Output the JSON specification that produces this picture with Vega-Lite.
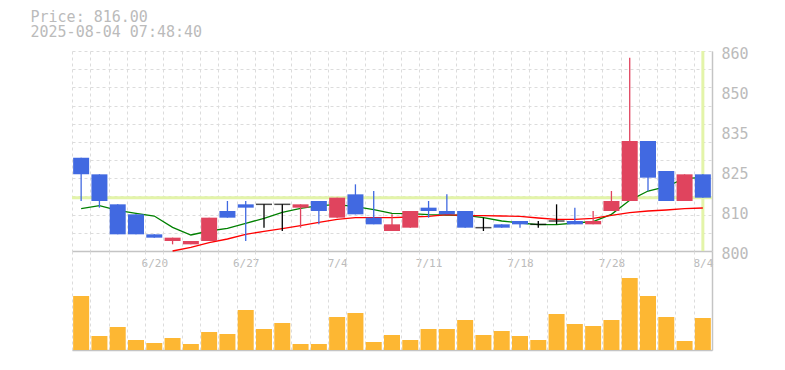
{
  "$schema": "https://vega.github.io/schema/vega-lite/v6.json",
  "background": "white",
  "padding": {"left": 30, "top": 10, "right": 5, "bottom": 5},
  "title": {
    "text": ["Price: 816.00", "2025-08-04 07:48:40"],
    "anchor": "start",
    "dx": -40,
    "font": "DejaVu Sans Mono",
    "fontSize": 15,
    "fontWeight": "normal",
    "color": "#bbbbbb",
    "lineHeight": 15,
    "offset": 6
  },
  "datasets": {
    "k": [
      {"d": "6/16", "o": 828, "h": 828, "l": 815, "c": 823, "g": 812.7, "r": null, "v": 54000},
      {"d": "6/17", "o": 823, "h": 823, "l": 813, "c": 815, "g": 813.6, "r": null, "v": 14000},
      {"d": "6/18", "o": 814, "h": 814, "l": 805, "c": 805, "g": 812.2, "r": null, "v": 23000},
      {"d": "6/19", "o": 811, "h": 811, "l": 805, "c": 805, "g": 811.3, "r": null, "v": 10000},
      {"d": "6/20", "o": 805, "h": 805, "l": 804, "c": 804, "g": 810.5, "r": null, "v": 7000},
      {"d": "6/23", "o": 803, "h": 804, "l": 802, "c": 804, "g": 807.1, "r": 800.0, "v": 12000},
      {"d": "6/24", "o": 802, "h": 803, "l": 802, "c": 803, "g": 804.8, "r": 801.1, "v": 6000},
      {"d": "6/25", "o": 803, "h": 810, "l": 803, "c": 810, "g": 806.0, "r": 802.5, "v": 18000},
      {"d": "6/26", "o": 812, "h": 815, "l": 810, "c": 810, "g": 806.8, "r": 803.6, "v": 16000},
      {"d": "6/27", "o": 814, "h": 815, "l": 803, "c": 813, "g": 808.3, "r": 805.0, "v": 40000},
      {"d": "6/30", "o": 814, "h": 814, "l": 807, "c": 814, "g": 809.8, "r": 805.9, "v": 21000},
      {"d": "7/1", "o": 814, "h": 814, "l": 806, "c": 814, "g": 811.6, "r": 806.7, "v": 27000},
      {"d": "7/2", "o": 813, "h": 814, "l": 807, "c": 814, "g": 812.8, "r": 807.6, "v": 6000},
      {"d": "7/3", "o": 815, "h": 815, "l": 808, "c": 812, "g": 813.6, "r": 808.6, "v": 6000},
      {"d": "7/4", "o": 810, "h": 816, "l": 810, "c": 816, "g": 813.9, "r": 809.5, "v": 33000},
      {"d": "7/7", "o": 817, "h": 820, "l": 811, "c": 811, "g": 813.3, "r": 810.0, "v": 37000},
      {"d": "7/8", "o": 810, "h": 818, "l": 808, "c": 808, "g": 812.4, "r": 810.0, "v": 8000},
      {"d": "7/9", "o": 806, "h": 811, "l": 806, "c": 808, "g": 811.3, "r": 810.0, "v": 15000},
      {"d": "7/10", "o": 807, "h": 812, "l": 807, "c": 812, "g": 811.2, "r": 810.2, "v": 10000},
      {"d": "7/11", "o": 813, "h": 815, "l": 810, "c": 812, "g": 810.9, "r": 810.4, "v": 21000},
      {"d": "7/14", "o": 812, "h": 817, "l": 811, "c": 811, "g": 810.8, "r": 810.9, "v": 21000},
      {"d": "7/15", "o": 812, "h": 812, "l": 807, "c": 807, "g": 810.7, "r": 810.6, "v": 30000},
      {"d": "7/16", "o": 807, "h": 810, "l": 806, "c": 807, "g": 810.0, "r": 810.6, "v": 15000},
      {"d": "7/17", "o": 808, "h": 808, "l": 807, "c": 807, "g": 809.0, "r": 810.5, "v": 19000},
      {"d": "7/18", "o": 809, "h": 809, "l": 807, "c": 808, "g": 808.4, "r": 810.4, "v": 14000},
      {"d": "7/22", "o": 808, "h": 809, "l": 807, "c": 808, "g": 807.9, "r": 809.9, "v": 10000},
      {"d": "7/23", "o": 809, "h": 814, "l": 808, "c": 809, "g": 807.9, "r": 809.5, "v": 36000},
      {"d": "7/24", "o": 809, "h": 813, "l": 808, "c": 808, "g": 808.4, "r": 809.5, "v": 26000},
      {"d": "7/25", "o": 808, "h": 812, "l": 808, "c": 809, "g": 808.8, "r": 809.8, "v": 24000},
      {"d": "7/28", "o": 812, "h": 818, "l": 812, "c": 815, "g": 811.0, "r": 810.7, "v": 30000},
      {"d": "7/29", "o": 815, "h": 858, "l": 815, "c": 833, "g": 815.2, "r": 811.5, "v": 72000},
      {"d": "7/30", "o": 833, "h": 833, "l": 818, "c": 822, "g": 818.0, "r": 812.0, "v": 54000},
      {"d": "7/31", "o": 824, "h": 824, "l": 815, "c": 815, "g": 819.3, "r": 812.3, "v": 33000},
      {"d": "8/1", "o": 815, "h": 823, "l": 815, "c": 823, "g": 821.8, "r": 812.7, "v": 9000},
      {"d": "8/4", "o": 823, "h": 823, "l": 816, "c": 816, "g": 822.0, "r": 812.9, "v": 32000}
    ]
  },
  "spacing": 0,
  "bounds": "flush",
  "vconcat": [
    {
      "width": 640,
      "height": 200,
      "data": {"name": "k"},
      "layer": [
        {
          "data": {"values": [{"p": 816}]},
          "mark": {"type": "rule", "color": "#e3f4a9", "strokeWidth": 3},
          "encoding": {
            "y": {
              "field": "p",
              "type": "quantitative",
              "scale": {"domain": [800, 860], "nice": false, "zero": false},
              "axis": {
                "orient": "left",
                "values": [800, 805.4545, 810.9091, 816.3636, 821.8182, 827.2727, 832.7273, 838.1818, 843.6364, 849.0909, 854.5455, 860],
                "grid": true,
                "gridColor": "#dcdcdc",
                "gridDash": [3, 3],
                "gridWidth": 1,
                "labels": false,
                "ticks": false,
                "domain": false,
                "title": null
              }
            }
          }
        },
        {
          "data": {"values": [{"p": 816}]},
          "mark": {"type": "rule", "opacity": 0},
          "encoding": {
            "y": {
              "field": "p",
              "type": "quantitative",
              "axis": {
                "orient": "right",
                "values": [800, 812, 824, 836, 848, 860],
                "labelExpr": "datum.value == 812 ? '810' : datum.value == 824 ? '825' : datum.value == 836 ? '835' : datum.value == 848 ? '850' : datum.value == 860 ? '860' : '800'",
                "labelOverlap": false,
                "labelFlush": false,
                "labelBound": false,
                "grid": false,
                "ticks": false,
                "domain": true,
                "domainColor": "#c4c4c4",
                "domainWidth": 1.5,
                "labelFont": "DejaVu Sans Mono",
                "labelFontSize": 15,
                "labelColor": "#bbbbbb",
                "labelPadding": 9,
                "labelOffset": 2,
                "title": null
              }
            }
          }
        },
        {
          "encoding": {
            "x": {
              "field": "d",
              "type": "ordinal",
              "sort": null,
              "scale": {"paddingInner": 0, "paddingOuter": 0},
              "axis": {
                "orient": "bottom",
                "title": null,
                "tickBand": "extent",
                "grid": true,
                "gridColor": "#dcdcdc",
                "gridDash": [3, 3],
                "ticks": false,
                "domain": true,
                "domainColor": "#c4c4c4",
                "domainWidth": 1.5,
                "labelAngle": 0,
                "labelExpr": "indexof(['6/20','6/27','7/4','7/11','7/18','7/28','8/4'], datum.value) >= 0 ? datum.value : ''",
                "labelFont": "DejaVu Sans Mono",
                "labelFontSize": 11,
                "labelColor": "#bbbbbb",
                "labelPadding": 6,
                "labelBaseline": "top",
                "labelOverlap": false
              }
            }
          },
          "layer": [
            {
              "mark": {"type": "rule", "color": "#e3f4a9", "strokeWidth": 3},
              "encoding": {
                "opacity": {"condition": {"test": "datum.d == '8/4'", "value": 1}, "value": 0}
              }
            },
            {
              "mark": {"type": "line", "color": "#008000", "strokeWidth": 1.3, "interpolate": "linear"},
              "encoding": {"y": {"field": "g", "type": "quantitative", "axis": null}}
            },
            {
              "mark": {"type": "line", "color": "#ff0000", "strokeWidth": 1.3},
              "encoding": {"y": {"field": "r", "type": "quantitative", "axis": null}}
            },
            {
              "mark": {"type": "rule", "strokeWidth": 1.3},
              "encoding": {
                "y": {"field": "l", "type": "quantitative", "axis": null},
                "y2": {"field": "h"},
                "color": {
                  "condition": [
                    {"test": "datum.c > datum.o", "value": "#e0445e"},
                    {"test": "datum.c < datum.o", "value": "#4169e1"}
                  ],
                  "value": "#000000"
                }
              }
            },
            {
              "mark": {"type": "bar", "width": {"band": 0.875}},
              "encoding": {
                "y": {"field": "o", "type": "quantitative", "axis": null},
                "y2": {"field": "c"},
                "color": {
                  "condition": {"test": "datum.c > datum.o", "value": "#e0445e"},
                  "value": "#4169e1"
                }
              }
            },
            {
              "transform": [{"filter": "datum.c == datum.o"}],
              "mark": {"type": "tick", "color": "#000000", "size": 16, "thickness": 1.5},
              "encoding": {"y": {"field": "o", "type": "quantitative", "axis": null}}
            }
          ]
        }
      ],
      "resolve": {"axis": {"y": "independent"}}
    },
    {
      "width": 640,
      "height": 99,
      "data": {"name": "k"},
      "mark": {"type": "bar", "width": {"band": 0.875}, "color": "#fdb733"},
      "encoding": {
        "x": {
          "field": "d",
          "type": "ordinal",
          "sort": null,
          "scale": {"paddingInner": 0, "paddingOuter": 0},
          "axis": {
            "orient": "bottom",
            "title": null,
            "tickBand": "extent",
            "grid": true,
            "gridColor": "#dcdcdc",
            "gridDash": [3, 3],
            "ticks": false,
            "labels": false,
            "domain": true,
            "domainColor": "#c4c4c4",
            "domainWidth": 1.5
          }
        },
        "y": {
          "field": "v",
          "type": "quantitative",
          "scale": {"domain": [0, 99000], "nice": false},
          "axis": {
            "orient": "right",
            "labels": false,
            "ticks": false,
            "grid": false,
            "domain": true,
            "domainColor": "#c4c4c4",
            "domainWidth": 1.5,
            "title": null
          }
        }
      }
    }
  ],
  "config": {
    "view": {"stroke": null},
    "axis": {"labelFont": "DejaVu Sans Mono", "labelOverlap": false}
  }
}
